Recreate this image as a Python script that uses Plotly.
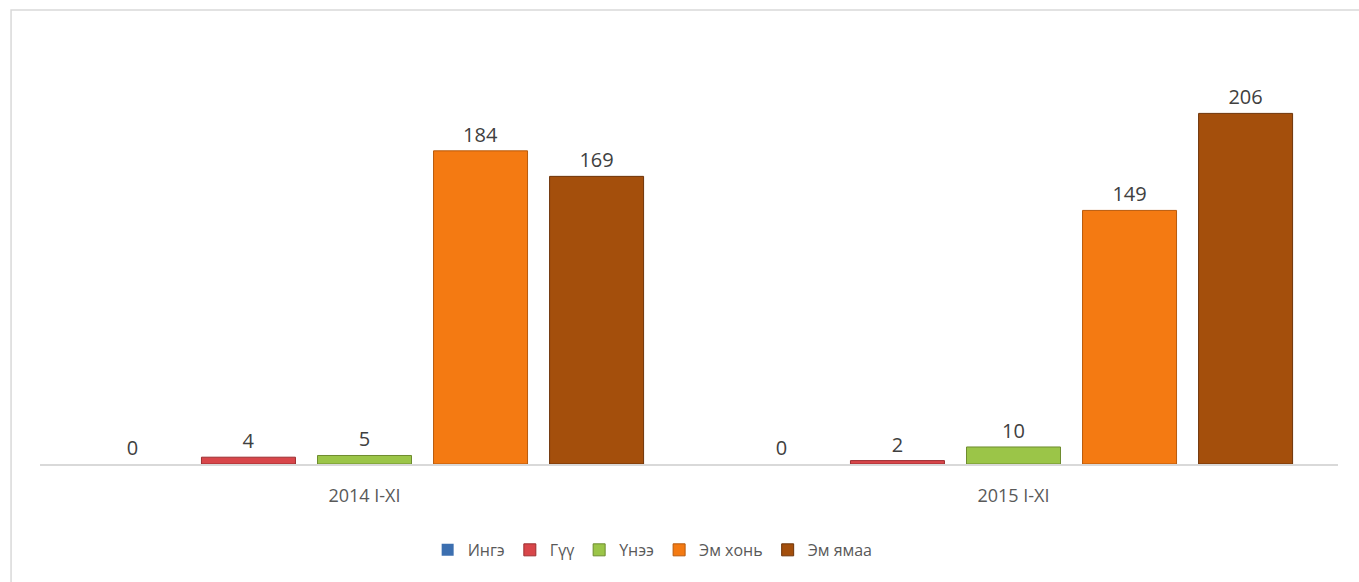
import plotly.graph_objects as go

categories = ["2014 I-XI", "2015 I-XI"]
series_names = ["Ингэ", "Гүү", "Үнээ", "Эм хонь", "Эм ямаа"]
inge = [0, 0]
guu = [4, 2]
unee = [5, 10]
em_khon = [184, 149]
em_yamaa = [169, 206]

colors = ["#3C6FB0", "#D8464A", "#9BC548", "#F47A12", "#A44F0C"]
edges = ["#2A4F80", "#9C2E30", "#6E8C2F", "#B85A0C", "#6E3408"]

fig = go.Figure()
for name, vals, col, edge in zip(series_names, [inge, guu, unee, em_khon, em_yamaa], colors, edges):
    fig.add_trace(go.Bar(
        x=categories, y=vals, name=name,
        marker=dict(color=col, line=dict(color=edge, width=0 if max(vals) == 0 else 1)),
        text=vals, textposition="outside", cliponaxis=False,
        textfont=dict(size=20, color="#404040"),
    ))

# outer chart-area border (only left/top visible in the original crop)
fig.add_shape(type="rect", xref="paper", yref="paper",
              x0=-0.0223, x1=1.2, y0=-0.6, y1=1.046,
              line=dict(color="#D9D9D9", width=1.5), layer="below")

fig.update_layout(
    width=1359, height=582,
    margin=dict(l=40, r=21, t=30, b=118),
    paper_bgcolor="white", plot_bgcolor="white",
    font=dict(family="Open Sans, Noto Sans, sans-serif", color="#595959"),
    barmode="group", bargap=0.106, bargroupgap=0.19,
    showlegend=True,
    legend=dict(orientation="h", x=0.472, xanchor="center", y=-0.198, yanchor="middle",
                font=dict(size=16, color="#595959"), traceorder="normal",
                itemwidth=30),
    xaxis=dict(showline=True, linecolor="#D9D9D9", linewidth=2, ticks="",
               ticklabelstandoff=14,
               tickfont=dict(size=18, color="#595959"), showgrid=False),
    yaxis=dict(range=[0, 255], visible=False, showgrid=False, zeroline=False),
)

fig.write_html("out.html", config={"displayModeBar": False},
               post_script="document.body.style.margin='0';")
